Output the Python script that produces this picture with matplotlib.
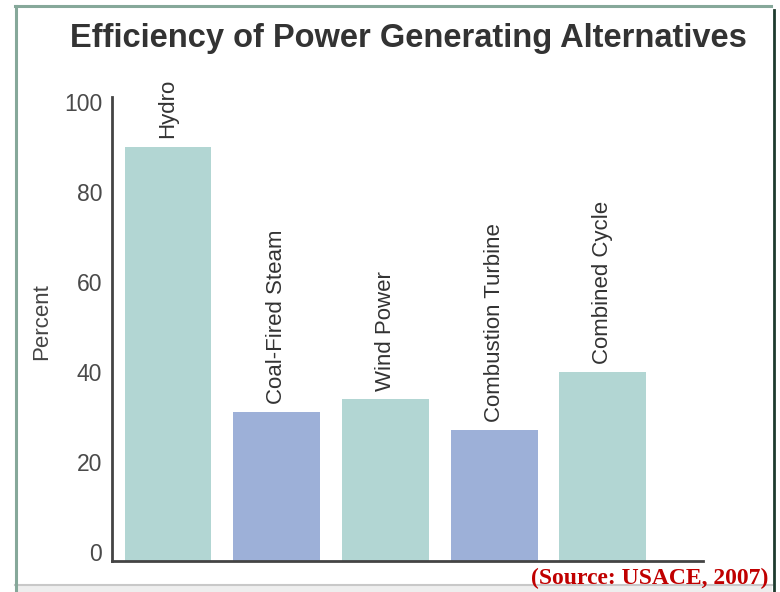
import matplotlib
matplotlib.use("Agg")
import matplotlib.pyplot as plt
from matplotlib.lines import Line2D
from matplotlib.patches import Rectangle

# Data
categories = ["Hydro", "Coal-Fired Steam", "Wind Power", "Combustion Turbine", "Combined Cycle"]
percent = [90, 31, 34, 27, 40]
bar_colors = ["#b2d6d3", "#9db0d8", "#b2d6d3", "#9db0d8", "#b2d6d3"]
yticks = [0, 20, 40, 60, 80, 100]

plt.rcParams["font.family"] = ["Liberation Sans", "DejaVu Sans"]

W, H = 780, 592
fig = plt.figure(figsize=(W / 100, H / 100), dpi=100)
fig.patch.set_facecolor("white")

# axes placed by pixel box (left 112, right 703, top 97, bottom 561)
ax = fig.add_axes([112 / W, 31 / H, (703 - 112) / W, (561 - 97) / H])
ymin = -2
x = list(range(len(categories)))
ax.bar(x, [v - ymin for v in percent], bottom=ymin, width=0.8, color=bar_colors)

for xi, v, name in zip(x, percent, categories):
    ax.text(xi, v + 1.8, name, rotation=90, ha="center", va="bottom",
            fontsize=16, color="#333333")

ax.set_xlim(-0.515, 4.92)
ax.set_ylim(ymin, 101)
ax.set_xticks([])
ax.set_yticks(yticks)
ax.tick_params(axis="y", length=0, pad=7, labelsize=16.5, labelcolor="#4a4a4a")
for s in ["top", "right"]:
    ax.spines[s].set_visible(False)
for s in ["left", "bottom"]:
    ax.spines[s].set_color("#444444")
    ax.spines[s].set_linewidth(2)

ax.set_ylabel("Percent", fontsize=16, color="#444444")
ax.yaxis.set_label_coords(-0.1015, 0.515)

# title and source
fig.text(408 / W, 1 - 38 / H, "Efficiency of Power Generating Alternatives",
         ha="center", va="center", fontsize=23.5, fontweight="bold", color="#333333")
fig.text(768 / W, 1 - 578 / H, "(Source: USACE, 2007)", ha="right", va="center",
         fontsize=17, fontweight="bold", color="#c00000",
         family=["Liberation Serif", "DejaVu Serif"])

# slide frame
fig.add_artist(Rectangle((15 / W, 0), (772 - 15) / W, 7 / H, transform=fig.transFigure,
                         facecolor="#eeeeee", edgecolor="none"))
fig.add_artist(Line2D([15 / W, 772 / W], [1 - 585 / H, 1 - 585 / H],
                      transform=fig.transFigure, color="#c8c8c8", lw=1.5))
fig.add_artist(Line2D([16 / W, 16 / W], [1 - 6 / H, 1 - 590 / H],
                      transform=fig.transFigure, color="#86a89a", lw=2.2))
fig.add_artist(Line2D([15 / W, 771 / W], [1 - 6 / H, 1 - 6 / H],
                      transform=fig.transFigure, color="#86a89a", lw=2.2))
fig.add_artist(Line2D([774 / W, 774 / W], [1 - 10 / H, 0],
                      transform=fig.transFigure, color="#1e3b2e", lw=2))

fig.savefig("out.png", dpi=100)
